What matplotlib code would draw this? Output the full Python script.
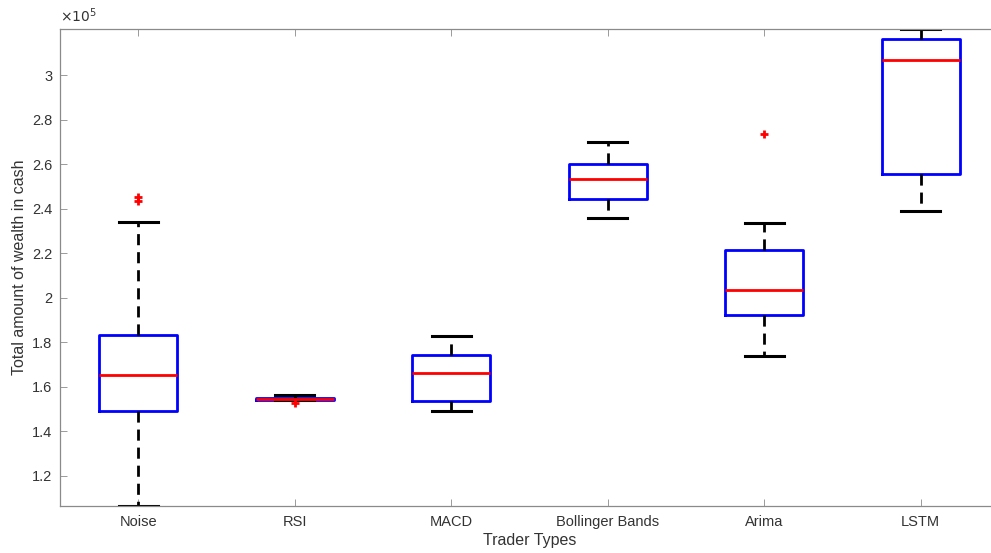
import matplotlib.pyplot as plt
from matplotlib.ticker import FuncFormatter

plt.rcParams['font.family'] = ['Liberation Sans', 'DejaVu Sans']

# 各类交易者的资金统计（单位：1e5）
traders = ['Noise', 'RSI', 'MACD', 'Bollinger Bands', 'Arima', 'LSTM']
q1 = [1.492, 1.543, 1.538, 2.443, 1.924, 2.558]
med = [1.653, 1.545, 1.663, 2.533, 2.036, 3.069]
q3 = [1.833, 1.548, 1.744, 2.600, 2.216, 3.165]
whis_lo = [1.065, 1.540, 1.493, 2.357, 1.739, 2.392]
whis_hi = [2.341, 1.562, 1.830, 2.700, 2.336, 3.208]
outliers = [[2.454, 2.435], [1.529], [], [], [2.735], []]
scale = 1e5

stats = []
for i, name in enumerate(traders):
    stats.append({'label': name,
                  'q1': q1[i] * scale, 'med': med[i] * scale, 'q3': q3[i] * scale,
                  'whislo': whis_lo[i] * scale, 'whishi': whis_hi[i] * scale,
                  'fliers': [v * scale for v in outliers[i]]})

text_c = '#333333'
fig = plt.figure(figsize=(9.91, 5.53), dpi=100)
ax = fig.add_axes([60 / 991, 47 / 553, 939 / 991, 477 / 553])

ax.bxp(stats, widths=0.5, showfliers=True,
       boxprops={'color': '#0000FF', 'linewidth': 2.0},
       medianprops={'color': '#FF0000', 'linewidth': 2.0},
       whiskerprops={'color': 'black', 'linewidth': 2.0, 'linestyle': (0, (4, 2.5))},
       capprops={'color': 'black', 'linewidth': 2.2},
       flierprops={'marker': '+', 'markeredgecolor': '#FF0000', 'markersize': 6,
                   'markeredgewidth': 2.0, 'linestyle': 'none'})

ax.set_xlim(0.5, 6.5)
ax.set_ylim(1.065 * scale, 3.208 * scale)
ax.set_yticks([v * scale for v in [1.2, 1.4, 1.6, 1.8, 2.0, 2.2, 2.4, 2.6, 2.8, 3.0]])
ax.yaxis.set_major_formatter(FuncFormatter(lambda v, p: '%g' % round(v / scale, 3)))

ax.tick_params(direction='in', length=5, width=0.6, color='#8a8a8a',
               labelcolor=text_c, labelsize=10.5, top=True, right=True)
ax.tick_params(axis='y', pad=5.5)
ax.tick_params(axis='x', pad=6.5)
for s in ax.spines.values():
    s.set_color('#8a8a8a')
    s.set_linewidth(0.9)

ax.text(0.0, 1.008, r'$\times10^5$', transform=ax.transAxes, ha='left', va='bottom',
        fontsize=10, color=text_c, family='DejaVu Sans')
ax.set_xlabel('Trader Types', fontsize=11.5, color=text_c, labelpad=3)
ax.set_ylabel('Total amount of wealth in cash', fontsize=11.5, color=text_c, labelpad=4)

fig.savefig('out.png', dpi=100)
